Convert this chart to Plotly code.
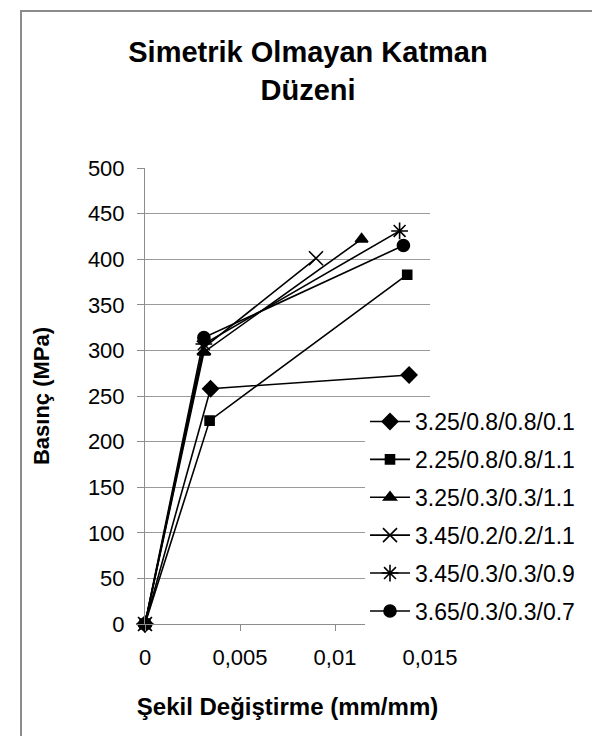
import plotly.graph_objects as go

# ---- data ----
series_names = [
    "3.25/0.8/0.8/0.1",
    "2.25/0.8/0.8/1.1",
    "3.25/0.3/0.3/1.1",
    "3.45/0.2/0.2/1.1",
    "3.45/0.3/0.3/0.9",
    "3.65/0.3/0.3/0.7",
]
x_s1 = [0, 0.00345, 0.0139]
y_s1 = [0, 258, 273]
x_s2 = [0, 0.00340, 0.0138]
y_s2 = [0, 223, 383]
x_s3 = [0, 0.00310, 0.0114]
y_s3 = [0, 298, 422]
x_s4 = [0, 0.00310, 0.0090]
y_s4 = [0, 303, 401]
x_s5 = [0, 0.00310, 0.0134]
y_s5 = [0, 307, 431]
x_s6 = [0, 0.00310, 0.0136]
y_s6 = [0, 314, 415]

x_tickvals = [0, 0.005, 0.01, 0.015]
x_ticktext = ["0", "0,005", "0,01", "0,015"]
y_tickvals = [0, 50, 100, 150, 200, 250, 300, 350, 400, 450, 500]

xs = [x_s1, x_s2, x_s3, x_s4, x_s5, x_s6]
ys = [y_s1, y_s2, y_s3, y_s4, y_s5, y_s6]
symbols = ["diamond", "square", "triangle-up", "x-thin-open", "asterisk-open", "circle"]
msizes = [12, 9, 11, 14, 14, 12]

FONT = "Liberation Sans, Arial, sans-serif"

fig = go.Figure()
for i in range(6):
    fig.add_trace(go.Scatter(
        x=xs[i], y=ys[i], name=series_names[i], mode="lines+markers",
        legendgroup=f"g{i}", cliponaxis=False,
        line=dict(color="black", width=1.6),
        marker=dict(symbol=symbols[i], size=msizes[i], color="black",
                    line=dict(color="black", width=1.6)),
    ))

L, R, T, B = 137, 178, 160, 120
W, H = 600, 736
pw = W - L - R
ph = H - T - B

def px_x(p):
    return (p - L) / pw

def px_y(p):
    return (H - B - p) / ph

fig.update_layout(
    width=W, height=H,
    margin=dict(l=L, r=R, t=T, b=B),
    paper_bgcolor="white", plot_bgcolor="white",
    font=dict(family=FONT, color="black"),
    title=dict(text="<b>Simetrik Olmayan Katman<br>Düzeni</b>",
               x=px_x(300), xref="paper", xanchor="center",
               y=1 - 54 / H, yanchor="middle",
               font=dict(size=29, family=FONT, color="black")),
    showlegend=True,
    legend=dict(x=px_x(357), y=px_y(392), xanchor="left", yanchor="top",
                bgcolor="white", borderwidth=0,
                font=dict(size=23, family=FONT, color="black"),
                tracegroupgap=5, itemwidth=40),
    xaxis=dict(range=[0, 0.015], tickvals=x_tickvals, ticktext=x_ticktext,
               showgrid=False, zeroline=False,
               showline=True, linecolor="#8c8c8c", linewidth=1,
               ticks="outside", ticklen=6, tickcolor="#8c8c8c",
               tickfont=dict(size=22, family=FONT, color="black"),
               ticklabelstandoff=8,
               title=dict(text="<b>Şekil Değiştirme (mm/mm)</b>",
                          font=dict(size=24, family=FONT, color="black"),
                          standoff=28)),
    yaxis=dict(range=[0, 500], tickvals=y_tickvals,
               showgrid=True, gridcolor="#9a9a9a", gridwidth=1,
               zeroline=False,
               showline=True, linecolor="#8c8c8c", linewidth=1,
               ticks="outside", ticklen=7, tickcolor="#8c8c8c",
               tickfont=dict(size=22, family=FONT, color="black"),
               ticklabelstandoff=8,
               title=dict(text="<b>Basınç (MPa)</b>",
                          font=dict(size=22, family=FONT, color="black"),
                          standoff=32)),
)

fig.add_shape(type="rect", xref="paper", yref="paper",
              x0=px_x(13), x1=px_x(593), y0=px_y(733), y1=px_y(3),
              line=dict(color="#8c8c8c", width=2), fillcolor="rgba(0,0,0,0)",
              layer="below")

fig.write_html("out.html")
